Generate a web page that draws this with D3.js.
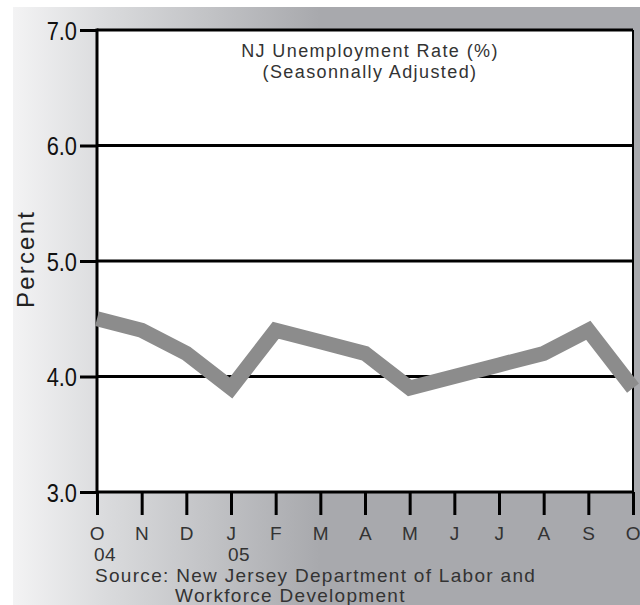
<!DOCTYPE html>
<html>
<head>
<meta charset="utf-8">
<title>NJ Unemployment Rate</title>
<script src="https://d3js.org/d3.v7.min.js"></script>
<style>
body { margin: 0; background: #fff; }
svg { display: block; font-family: "Liberation Sans", Arial, sans-serif; }
.ylab text { font-family: "Liberation Sans", Arial, sans-serif; font-size: 26px; fill: #111; }
.xlab text { font-size: 19px; fill: #333; letter-spacing: 0.5px; }
</style>
</head>
<body>
<script>
// values
var months = ["O", "N", "D", "J", "F", "M", "A", "M", "J", "J", "A", "S", "O"];
var rates = [4.5, 4.4, 4.2, 3.9, 4.4, 4.3, 4.2, 3.9, 4.0, 4.1, 4.2, 4.4, 3.9];
var yearIdx = [0, 3];
var yearText = ["04", "05"];
var yTicks = [3.0, 4.0, 5.0, 6.0, 7.0];

var width = 640, height = 605;
var pLeft = 97, pRight = 633, pTop = 30, pBottom = 492;
var squeeze = 0.84; // tick numbers are set in a narrow face

var svg = d3.select("body").append("svg")
  .attr("width", width)
  .attr("height", height);

// grey gradient backdrop
var grad = svg.append("defs").append("linearGradient")
  .attr("id", "bg")
  .attr("gradientUnits", "userSpaceOnUse")
  .attr("x1", 13).attr("x2", 320).attr("y1", 0).attr("y2", 0);
grad.append("stop").attr("offset", "0").attr("stop-color", "#f3f3f4");
grad.append("stop").attr("offset", "0.3").attr("stop-color", "#dadbdd");
grad.append("stop").attr("offset", "1").attr("stop-color", "#a8a9ad");

svg.append("rect")
  .attr("x", 13).attr("y", 7)
  .attr("width", width - 13).attr("height", height - 7)
  .attr("fill", "url(#bg)");

var x = d3.scaleLinear().domain([0, months.length - 1]).range([pLeft, pRight]);
var y = d3.scaleLinear().domain([3, 7]).range([pBottom, pTop]);

// white plot area
svg.append("rect")
  .attr("x", pLeft).attr("y", pTop)
  .attr("width", pRight - pLeft).attr("height", pBottom - pTop)
  .attr("fill", "#fff");

// gridlines
svg.append("g").selectAll("line")
  .data(yTicks)
  .enter()
  .append("line")
  .attr("x1", pLeft).attr("x2", pRight)
  .attr("y1", function(d) { return y(d); })
  .attr("y2", function(d) { return y(d); })
  .attr("stroke", "#000")
  .attr("stroke-width", 3);

// right border
svg.append("line")
  .attr("x1", pRight).attr("x2", pRight)
  .attr("y1", pTop).attr("y2", pBottom)
  .attr("stroke", "#000").attr("stroke-width", 2);

// y axis
var yAxis = svg.append("g")
  .attr("class", "ylab")
  .attr("transform", "translate(" + pLeft + ",0)")
  .call(d3.axisLeft(y).tickValues(yTicks).tickFormat(d3.format(".1f")).tickSize(17).tickPadding(3));
yAxis.select(".domain").remove();
yAxis.selectAll(".tick line").attr("stroke", "#000").attr("stroke-width", 3);
yAxis.selectAll(".tick text")
  .attr("dy", "0.36em")
  .attr("x", -20 / squeeze)
  .attr("transform", "scale(" + squeeze + ",1)");

// x axis
var xAxis = svg.append("g")
  .attr("class", "xlab")
  .attr("transform", "translate(0," + pBottom + ")")
  .call(d3.axisBottom(x).tickValues(d3.range(months.length))
    .tickFormat(function(i) { return months[i]; }).tickSize(23).tickPadding(12));
xAxis.select(".domain").remove();
xAxis.selectAll(".tick line").attr("stroke", "#000").attr("stroke-width", 3);

// left axis line
svg.append("line")
  .attr("x1", pLeft).attr("x2", pLeft)
  .attr("y1", pTop - 1.5).attr("y2", pBottom)
  .attr("stroke", "#000").attr("stroke-width", 3);

// year labels under the months
svg.append("g").selectAll("text")
  .data(yearIdx)
  .enter()
  .append("text")
  .attr("x", function(d) { return x(d) - 3; })
  .attr("y", 561)
  .attr("font-size", 19)
  .attr("letter-spacing", 0.5)
  .attr("fill", "#333")
  .text(function(d, i) { return yearText[i]; });

// data line
var line = d3.line()
  .x(function(d, i) { return x(i); })
  .y(function(d) { return y(d); });

svg.append("path")
  .datum(rates)
  .attr("d", line)
  .attr("fill", "none")
  .attr("stroke", "#8c8c8c")
  .attr("stroke-width", 15)
  .attr("stroke-linejoin", "miter");

// title
var title = svg.append("text")
  .attr("text-anchor", "middle")
  .attr("font-size", 18)
  .attr("letter-spacing", 1.4)
  .attr("fill", "#333");
title.append("tspan").attr("x", 370).attr("y", 57).text("NJ Unemployment Rate (%)");
title.append("tspan").attr("x", 370).attr("y", 78).text("(Seasonnally Adjusted)");

// y label
svg.append("text")
  .attr("transform", "translate(34,259) rotate(-90)")
  .attr("text-anchor", "middle")
  .attr("font-size", 24)
  .attr("letter-spacing", 2.2)
  .attr("fill", "#222")
  .text("Percent");

// source
var src = svg.append("text")
  .attr("font-size", 19)
  .attr("letter-spacing", 1.3)
  .attr("fill", "#333");
src.append("tspan").attr("x", 95).attr("y", 582).text("Source: New Jersey Department of Labor and");
src.append("tspan").attr("x", 175).attr("y", 602).text("Workforce Development");
</script>
</body>
</html>
